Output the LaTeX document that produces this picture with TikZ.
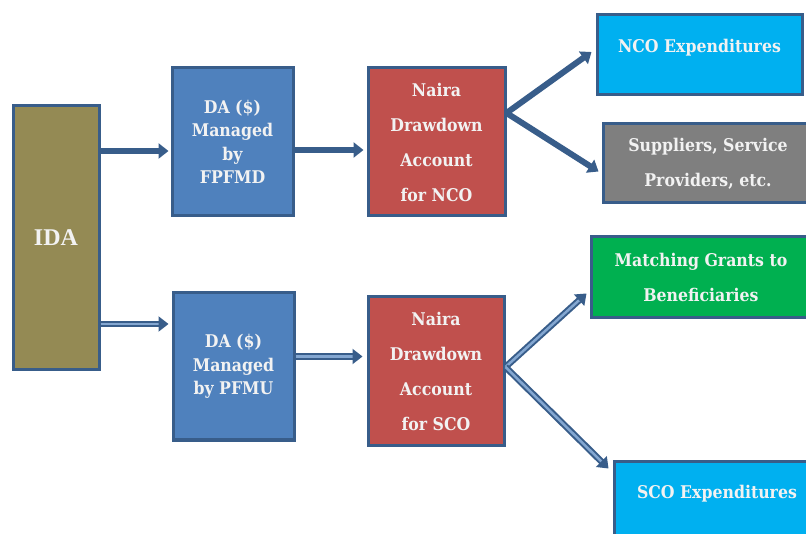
\documentclass[tikz,border=0pt]{standalone}
\usepackage{fontspec}
\setmainfont{DejaVu Serif Condensed}
\newfontfamily\idafont{Liberation Serif}
\usetikzlibrary{positioning, arrows.meta, calc}
\definecolor{edgeblue}{RGB}{56, 93, 138}
\definecolor{idafill}{RGB}{148, 138, 84}
\definecolor{dafill}{RGB}{79, 129, 189}
\definecolor{nairafill}{RGB}{192, 80, 77}
\definecolor{expfill}{RGB}{0, 176, 240}
\definecolor{supfill}{RGB}{127, 127, 127}
\definecolor{grantfill}{RGB}{0, 176, 80}
\definecolor{boxtext}{RGB}{242, 242, 242}

\begin{document}
\begin{tikzpicture}[
        x=1pt, y=-1pt,
        box/.style={
            draw=edgeblue, line width=3pt,
            align=center, text=boxtext, inner sep=2pt,
            font=\fontsize{17.5}{35}\selectfont\bfseries
        },
        flow/.style={
            draw=edgeblue, line width=6pt,
            -{Triangle[length=10pt, width=15pt]}
        },
        flowd/.style={
            draw=edgeblue, line width=2pt,
            double=dafill!70!white, double distance=2.5pt,
            -{Triangle[length=10pt, width=15pt]}
        }
    ]
    \useasboundingbox (0,0) rectangle (806,534);

    % sources
    \node[box, fill=idafill, minimum width=86pt, minimum height=264pt,
          font=\fontsize{24}{28}\selectfont\idafont\bfseries] (ida) at (56, 238) {IDA};

    \node[box, fill=dafill, minimum width=121pt, minimum height=148pt,
          font=\fontsize{17.5}{23.5}\selectfont\bfseries] (da1) at (232.5, 142)
        {DA (\$)\\Managed\\by\\FPFMD};
    \node[box, fill=dafill, minimum width=121pt, minimum height=147pt,
          font=\fontsize{17.5}{23.5}\selectfont\bfseries] (da2) at (233.5, 366.5)
        {DA (\$)\\Managed\\by PFMU};

    % naira accounts
    \node[box, fill=nairafill, minimum width=137pt, minimum height=148pt]
        (nco) at (436.5, 142) {Naira\\Drawdown\\Account\\for NCO};
    \node[box, fill=nairafill, minimum width=136pt, minimum height=148pt]
        (sco) at (436, 371) {Naira\\Drawdown\\Account\\for SCO};

    % end uses
    \node[box, fill=expfill, minimum width=205pt, minimum height=80pt,
          text depth=18pt] (ncoexp) at (699.5, 55) {NCO Expenditures};
    \node[box, fill=supfill, minimum width=210pt, minimum height=79pt]
        (supp) at (708, 163.5) {Suppliers, Service\\Providers, etc.};
    \node[box, fill=grantfill, minimum width=220pt, minimum height=81pt]
        (grant) at (701, 277.5) {Matching Grants to\\Beneficiaries};
    \node[box, fill=expfill, minimum width=206pt, minimum height=84pt,
          text depth=22pt] (scoexp) at (717, 503) {SCO Expenditures};

    % NCO branch
    \draw[flow] ($(ida.east |- da1.west)+(0,9)$) -- ($(da1.west)+(-2,9)$);
    \draw[flow] ($(da1.east)+(0,8)$) -- ($(nco.west)+(-3,8)$);
    \draw[flow] ($(nco.east)+(0,-29)$) -- ($(ncoexp.west)+(-4,-3)$);
    \draw[flow] ($(nco.east)+(0,-29)$) -- ($(supp.west)+(-3,8)$);

    % SCO branch
    \draw[flowd] ($(ida.east |- da2.west)+(0,-42.5)$) -- ($(da2.west)+(-3,-42.5)$);
    \draw[flowd] ($(da2.east)+(0,-10)$) -- ($(sco.west |- da2.east)+(-4,-10)$);
    \draw[flowd] ($(sco.east)+(0,-4)$) -- ($(grant.west)+(-3,16)$);
    \draw[flowd] ($(sco.east)+(0,-4)$) -- ($(scoexp.north west)+(-4,9)$);

\end{tikzpicture}
\end{document}
